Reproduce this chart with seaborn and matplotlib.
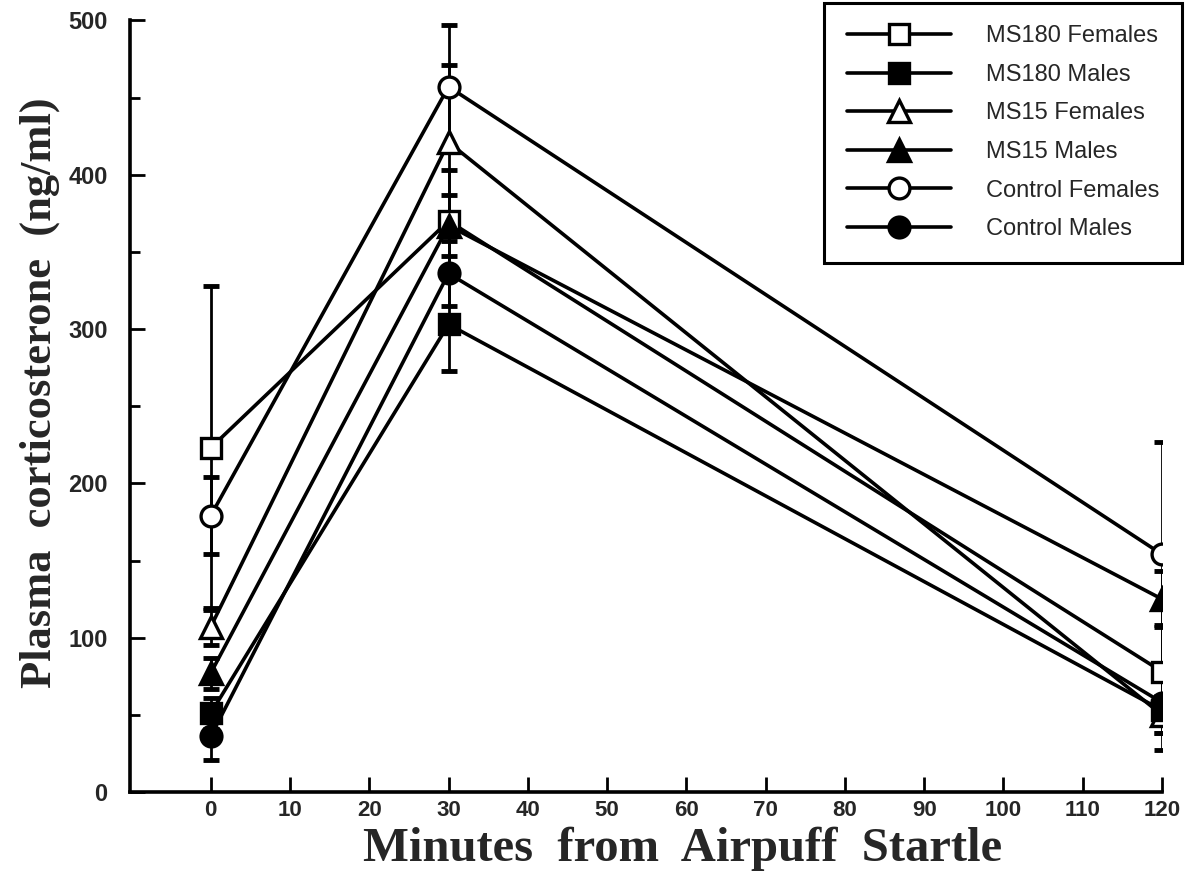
import numpy as np
import pandas as pd
import matplotlib
matplotlib.use("Agg")
import matplotlib.pyplot as plt
import seaborn as sns
from matplotlib.ticker import MultipleLocator

# ---- data ----
minutes = [0, 30, 120]
groups = ["MS180 Females", "MS180 Males", "MS15 Females", "MS15 Males",
          "Control Females", "Control Males"]
ms180_f = [223, 370, 78]
ms180_m = [51, 303, 53]
ms15_f = [107, 421, 50]
ms15_m = [77, 367, 125]
ctrl_f = [179, 457, 154]
ctrl_m = [36, 336, 58]
ms180_f_se = [105, 33, 30]
ms180_m_se = [10, 30, 26]
ms15_f_se = [12, 50, 12]
ms15_m_se = [10, 20, 18]
ctrl_f_se = [25, 40, 73]
ctrl_m_se = [15, 21, 20]

means = [ms180_f, ms180_m, ms15_f, ms15_m, ctrl_f, ctrl_m]
ses = [ms180_f_se, ms180_m_se, ms15_f_se, ms15_m_se, ctrl_f_se, ctrl_m_se]
marker_shapes = ["s", "s", "^", "^", "o", "o"]
open_marker = [True, False, True, False, True, False]

x_ticks = list(range(0, 121, 10))
y_ticks = [0, 100, 200, 300, 400, 500]

sns.set_theme(style="ticks")
plt.rcParams["font.family"] = ["Liberation Sans", "DejaVu Sans"]

fig = plt.figure(figsize=(11.91, 8.84), dpi=100)
ax = fig.add_axes([0.109, 0.104, 0.8667, 0.873])

for i, g in enumerate(groups):
    df = pd.DataFrame({"Minutes": minutes, "Cort": means[i]})
    ax.errorbar(minutes, means[i], yerr=ses[i], fmt="none", ecolor="black",
                elinewidth=2, capsize=6, capthick=3.5, zorder=1)
    sns.lineplot(data=df, x="Minutes", y="Cort", ax=ax, color="black",
                 linewidth=2.6, marker=marker_shapes[i],
                 markersize=15 if marker_shapes[i] != "^" else 16,
                 markerfacecolor="white" if open_marker[i] else "black",
                 markeredgecolor="black", markeredgewidth=2.4,
                 label=g, zorder=2 if open_marker[i] else 3, errorbar=None)

ax.set_xlim(-10.2, 120)
ax.set_ylim(0, 500)
ax.set_xticks(x_ticks)
ax.set_yticks(y_ticks)
ax.yaxis.set_minor_locator(MultipleLocator(50))
ax.tick_params(axis="both", which="both", direction="in", color="black")
ax.tick_params(axis="y", which="major", length=11, width=2, pad=16,
               labelsize=17)
ax.tick_params(axis="y", which="minor", length=7, width=2)
ax.tick_params(axis="x", which="major", length=11, width=2, pad=6,
               labelsize=16)
for lab in ax.get_yticklabels():
    lab.set_fontweight("bold")
for lab in ax.get_xticklabels():
    lab.set_fontweight("bold")

sns.despine(ax=ax)
for sp in ["left", "bottom"]:
    ax.spines[sp].set_linewidth(2.6)
    ax.spines[sp].set_color("black")

ax.set_xlabel("Minutes  from  Airpuff  Startle", family="Liberation Serif",
              fontweight="bold", fontsize=35)
ax.set_ylabel("Plasma  corticosterone  (ng/ml)", family="Liberation Serif",
              fontweight="bold", fontsize=32)
ax.xaxis.set_label_coords(0.535, -0.045)
ax.yaxis.set_label_coords(-0.068, 0.518)

leg = ax.legend(loc="upper right", bbox_to_anchor=(1182 / 1191, 1 - 3 / 884),
                bbox_transform=fig.transFigure, borderaxespad=0,
                frameon=True, fancybox=False, fontsize=17,
                handlelength=4.4, handletextpad=1.5, labelspacing=0.7,
                borderpad=0.95, markerscale=1.0)
leg.get_frame().set_edgecolor("black")
leg.get_frame().set_linewidth(2.2)
leg.get_frame().set_alpha(1)

fig.savefig("out.png", dpi=100)
